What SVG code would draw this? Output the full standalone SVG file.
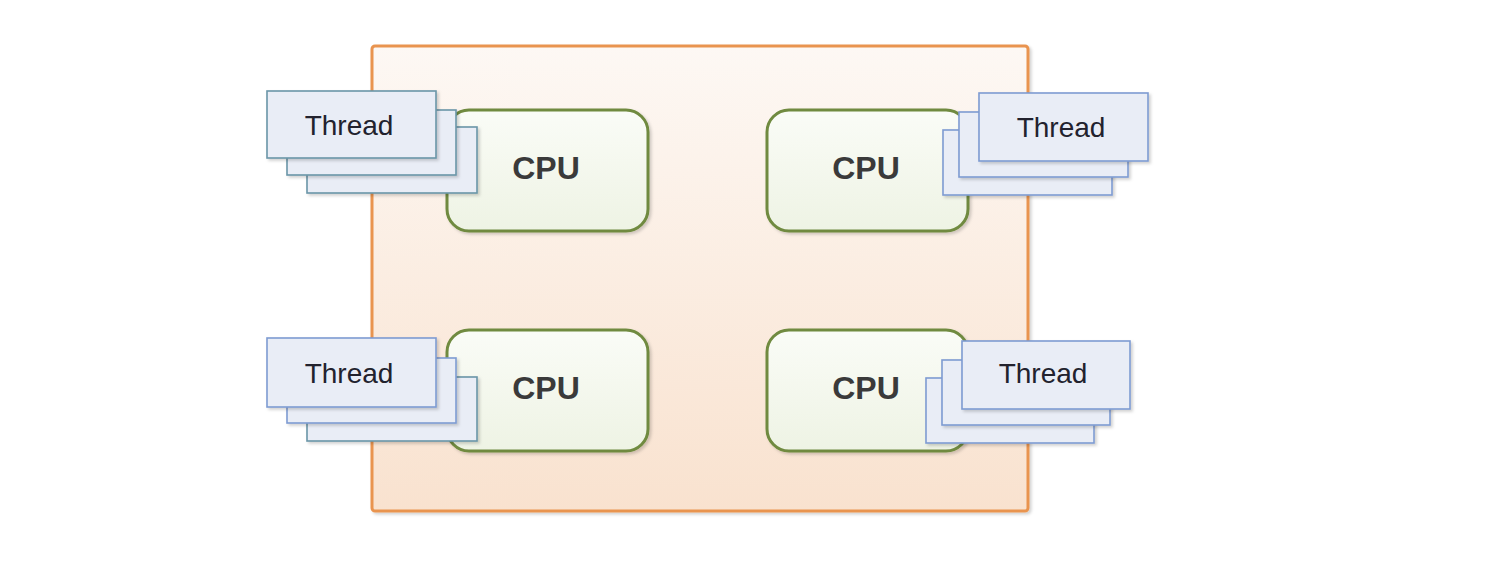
<svg xmlns="http://www.w3.org/2000/svg" width="1488" height="566" viewBox="0 0 1488 566">
<defs>
<linearGradient id="gOuter" x1="0" y1="0" x2="0" y2="1">
<stop offset="0" stop-color="#FDF8F4"/>
<stop offset="1" stop-color="#F9E2CF"/>
</linearGradient>
<linearGradient id="gCpu" x1="0" y1="0" x2="0" y2="1">
<stop offset="0" stop-color="#FAFCF7"/>
<stop offset="1" stop-color="#EEF3E4"/>
</linearGradient>
<filter id="sh" x="-10%" y="-10%" width="130%" height="130%">
<feDropShadow dx="2" dy="2" stdDeviation="1.5" flood-color="#000" flood-opacity="0.18"/>
</filter>
</defs>
<style>
.outer{fill:url(#gOuter);stroke:#E9944F;stroke-width:3;filter:url(#sh)}
.cpu{fill:url(#gCpu);stroke:#6F8A3F;stroke-width:3;filter:url(#sh)}
.thr{fill:#E9EDF6;stroke-width:1.6;filter:url(#sh)}
.teal{stroke:#6A95A8}
.blue{stroke:#7D9BD2}
.tt{font-family:"Liberation Sans",Arial,sans-serif;font-size:28px;fill:#22222E;text-anchor:middle}
.ct{font-family:"Liberation Sans",Arial,sans-serif;font-size:32px;font-weight:bold;fill:#3A3A3A;text-anchor:middle}
</style>
<rect width="1488" height="566" fill="#FFFFFF"/>
<g id="board">
<rect class="outer" x="372" y="46" width="656" height="465" rx="3"/>
</g>
<g id="cpu-tl">
<rect class="cpu" x="447" y="110" width="201" height="121" rx="22"/>
<text class="ct" x="546" y="179">CPU</text>
</g>
<g id="cpu-tr">
<rect class="cpu" x="767" y="110" width="201" height="121" rx="22"/>
<text class="ct" x="866" y="179">CPU</text>
</g>
<g id="cpu-bl">
<rect class="cpu" x="447" y="330" width="201" height="121" rx="22"/>
<text class="ct" x="546" y="399">CPU</text>
</g>
<g id="cpu-br">
<rect class="cpu" x="767" y="330" width="201" height="121" rx="22"/>
<text class="ct" x="866" y="399">CPU</text>
</g>
<g id="threads-tl">
<rect class="thr teal" x="307" y="127" width="170" height="66"/>
<rect class="thr teal" x="287" y="110" width="169" height="65"/>
<rect class="thr teal" x="267" y="91" width="169" height="67"/>
<text class="tt" x="349" y="135">Thread</text>
</g>
<g id="threads-tr">
<rect class="thr blue" x="943" y="130" width="169" height="65"/>
<rect class="thr blue" x="959" y="112" width="169" height="65"/>
<rect class="thr blue" x="979" y="93" width="169" height="68"/>
<text class="tt" x="1061" y="137">Thread</text>
</g>
<g id="threads-bl">
<rect class="thr teal" x="307" y="377" width="170" height="64"/>
<rect class="thr blue" x="287" y="358" width="169" height="65"/>
<rect class="thr blue" x="267" y="338" width="169" height="69"/>
<text class="tt" x="349" y="383">Thread</text>
</g>
<g id="threads-br">
<rect class="thr blue" x="926" y="378" width="168" height="65"/>
<rect class="thr blue" x="942" y="360" width="168" height="65"/>
<rect class="thr blue" x="962" y="341" width="168" height="68"/>
<text class="tt" x="1043" y="383">Thread</text>
</g>
<g id="connectors"/>
</svg>
